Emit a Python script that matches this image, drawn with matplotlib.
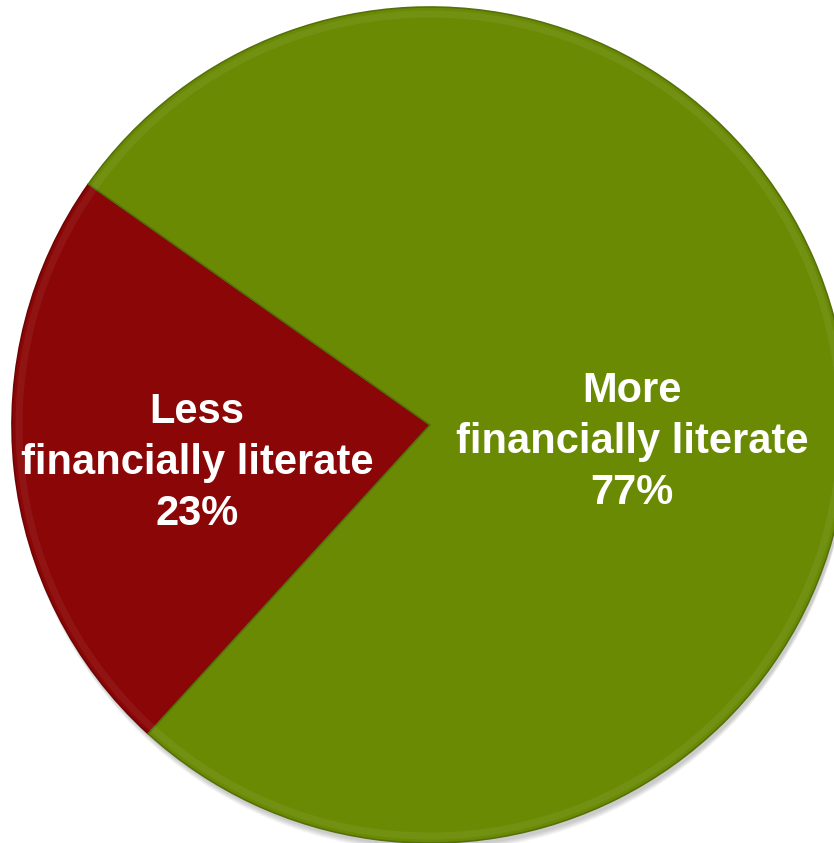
import matplotlib.pyplot as plt
from matplotlib.patches import Circle

labels = ["Less\nfinancially literate", "More\nfinancially literate"]
shares = [23, 77]
colors = ["#8b0606", "#6a8a04"]
edges = ["#6e0404", "#55700a"]

W, H = 834, 843
fig = plt.figure(figsize=(W / 100, H / 100), dpi=100)
ax = fig.add_axes([0, 0, 1, 1])

cx, cy, r = 430, H - 425, 418

# soft drop shadow under the pie
for k in range(6):
    ax.add_patch(Circle((cx + 2, cy - 4 - k), r, color="#000000",
                        alpha=0.035, lw=0, zorder=0))

wedges, texts = ax.pie(shares, colors=colors, startangle=144.8,
                       center=(cx, cy), radius=r, frame=True,
                       wedgeprops=dict(linewidth=1.2))
for w, ec in zip(wedges, edges):
    w.set_edgecolor(ec)

ax.set_xlim(0, W)
ax.set_ylim(0, H)
ax.set_aspect("equal")
ax.axis("off")

# faint bevel around the rim
ax.add_patch(Circle((cx, cy), r - 7, fill=False, ec="#ffffff",
                    lw=5, alpha=0.06, zorder=3))

font = dict(family=["Liberation Sans", "DejaVu Sans"], weight="bold",
            size=30, color="white", ha="center", va="center",
            linespacing=1.36)
ax.text(197, H - 463, f"{labels[0]}\n{shares[0]}%", **font)
ax.text(632, H - 442, f"{labels[1]}\n{shares[1]}%", **font)

fig.savefig("out.png", dpi=100)
